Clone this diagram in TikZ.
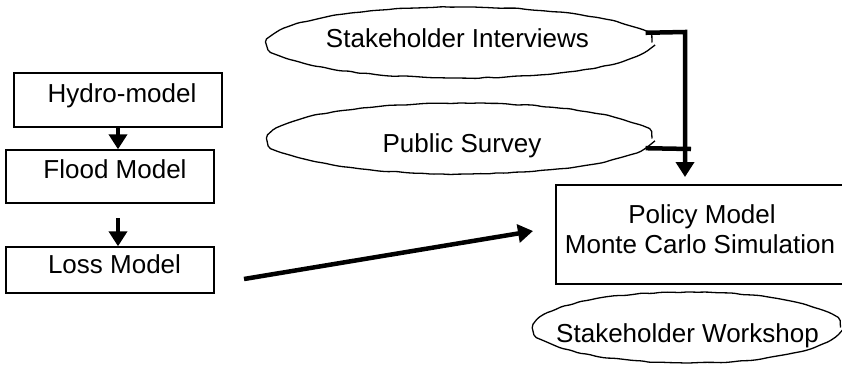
\documentclass[tikz,border=0pt]{standalone}
\usepackage{fontspec}
\setmainfont{Liberation Sans}
\usetikzlibrary{arrows.meta,shapes.geometric,decorations.pathmorphing}
\begin{document}
\begin{tikzpicture}[x=1pt,y=-1pt,
  box/.style={draw,line width=1.4pt,rectangle,inner sep=0pt},
  cloud/.style={draw,line width=1.3pt,ellipse,inner sep=0pt,
    decorate,decoration={random steps,segment length=9pt,amplitude=0.6pt},rounded corners=2pt},
  txt/.style={anchor=base,inner sep=0pt,font=\fontsize{26}{30}\selectfont},
  conn/.style={line width=4.5pt},
  arr/.style={conn,-{Triangle[length=15pt,width=18pt]}}]
\useasboundingbox (0,0) rectangle (842,365);
% boxes
\node[box,minimum width=208pt,minimum height=54pt] (hydro) at (118,100) {};
\node[box,minimum width=208pt,minimum height=53pt] (flood) at (110,176.5) {};
\node[box,minimum width=208pt,minimum height=46pt] (loss) at (110,270) {};
\node[box,minimum width=294pt,minimum height=99pt] (policy) at (703,234.5) {};
% ellipses
\node[cloud,minimum width=384pt,minimum height=71pt] (interviews) at (460,42.5) {};
\node[cloud,minimum width=383pt,minimum height=71pt] (survey) at (460.5,138.5) {};
\node[cloud,minimum width=306pt,minimum height=71pt] (workshop) at (687.5,327.5) {};
% texts
\node[txt] (thydro) at (122,102) {Hydro-model};
\node[txt] (tflood) at (115,178) {Flood Model};
\node[txt] (tloss) at (114.5,273) {Loss Model};
\node[txt] (tpol1) at (702,223) {Policy Model};
\node[txt] (tpol2) at (700,253) {Monte Carlo Simulation};
\node[txt] (tint) at (457.5,47) {Stakeholder Interviews};
\node[txt] (tsur) at (462,152) {Public Survey};
\node[txt] (twork) at (687.5,342) {Stakeholder Workshop};
% connector points
\coordinate (flOut) at (118,218);
\coordinate (lossOut) at (244,279);
\coordinate (policyIn) at (533,231);
\coordinate (ivTurn) at (685,32);
\coordinate (ivTip) at (685,177);
\coordinate (svEnd) at (691,149);
% connectors
\draw[arr] (hydro.south) -- (hydro.south |- flood.north);
\draw[arr] (flOut) -- (flOut |- loss.north);
\draw[arr] (lossOut) -- (policyIn);
\draw[arr] (interviews.3) -- (ivTurn) -- (ivTip);
\draw[conn] (survey.-3) -- (svEnd);
\end{tikzpicture}
\end{document}
